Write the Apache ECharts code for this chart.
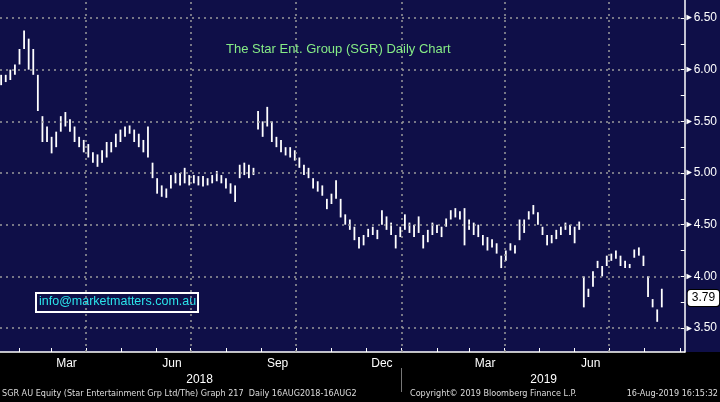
<!DOCTYPE html>
<html>
<head>
<meta charset="utf-8">
<script src="https://cdn.jsdelivr.net/npm/echarts@6/dist/echarts.min.js"></script>
<style>
  html, body { margin: 0; padding: 0; }
  body { background: linear-gradient(#0f0f48 0, #0f0f48 352px, #000 352px); }
  #main { width: 720px; height: 402px; }
</style>
</head>
<body>
<div id="main"></div>
<script>
// day numbers count from 1 Jan 2018, one bar every 4 days from 16 Jan 2018
var lows = [5.85,5.88,5.90,5.95,6.05,6.20,6.00,5.95,5.60,5.30,5.30,5.19,5.25,5.40,5.45,5.40,5.30,5.25,5.20,5.15,
  5.10,5.06,5.10,5.15,5.20,5.25,5.30,5.35,5.38,5.30,5.25,5.20,5.15,4.95,4.80,4.77,4.76,4.85,4.90,4.88,
  4.90,4.88,4.90,4.88,4.87,4.88,4.90,4.92,4.90,4.85,4.80,4.72,4.95,4.98,4.95,4.98,5.42,5.35,5.45,5.30,
  5.25,5.20,5.17,5.15,5.12,5.05,4.98,4.95,4.85,4.82,4.78,4.65,4.70,4.75,4.57,4.50,4.45,4.35,4.27,4.30,
  4.38,4.40,4.36,4.50,4.45,4.40,4.27,4.38,4.45,4.42,4.38,4.42,4.27,4.33,4.40,4.42,4.38,4.48,4.55,4.57,
  4.55,4.30,4.45,4.40,4.38,4.30,4.25,4.28,4.22,4.08,4.15,4.25,4.22,4.35,4.42,4.55,4.60,4.50,4.40,4.30,
  4.32,4.36,4.40,4.45,4.40,4.32,4.45,3.70,3.80,3.90,4.08,4.00,4.10,4.15,4.17,4.10,4.08,4.08,4.18,4.20,
  4.10,3.80,3.70,3.56,3.70];
var highs = [5.95,5.95,6.00,6.05,6.20,6.38,6.30,6.20,5.95,5.55,5.45,5.35,5.40,5.55,5.59,5.52,5.45,5.35,5.32,5.28,
  5.20,5.18,5.22,5.30,5.30,5.38,5.42,5.45,5.46,5.42,5.38,5.32,5.45,5.10,4.95,4.88,4.85,4.98,5.00,5.00,
  5.05,4.98,4.98,4.97,4.97,4.95,4.98,5.02,4.98,4.95,4.90,4.88,5.08,5.10,5.08,5.05,5.60,5.50,5.64,5.50,
  5.35,5.32,5.25,5.25,5.22,5.15,5.08,5.05,4.95,4.92,4.88,4.75,4.80,4.93,4.75,4.60,4.55,4.48,4.38,4.40,
  4.46,4.48,4.45,4.64,4.58,4.52,4.40,4.48,4.60,4.52,4.50,4.58,4.40,4.45,4.52,4.50,4.48,4.56,4.64,4.66,
  4.63,4.66,4.55,4.52,4.50,4.40,4.38,4.36,4.32,4.20,4.25,4.32,4.30,4.55,4.55,4.63,4.69,4.62,4.48,4.40,
  4.40,4.45,4.48,4.52,4.50,4.48,4.53,4.00,3.88,4.05,4.15,4.10,4.20,4.22,4.25,4.20,4.15,4.12,4.26,4.28,
  4.20,4.00,3.78,3.68,3.88];
var lastPrice = 3.79;
var priceTicks = [3.5, 4, 4.5, 5, 5.5, 6, 6.5];
var minorTicks = [3.5, 3.75, 4, 4.25, 4.5, 4.75, 5, 5.25, 5.5, 5.75, 6, 6.25, 6.5];
var monthDays = [73, 165, 257, 348, 438, 530];
var monthNames = ['Mar', 'Jun', 'Sep', 'Dec', 'Mar', 'Jun'];
var quarterDays = [90, 181, 273, 365, 455, 546];
var yearDays = [189, 489];
var yearNames = ['2018', '2019'];
var monthStarts = [32, 60, 90, 121, 151, 181, 212, 243, 273, 304, 334, 365, 396, 424, 455, 485, 516, 546, 577, 608];

var days = lows.map(function (v, i) { return 16 + 4 * i; });
var bars = lows.map(function (v, i) { return [days[i], v, highs[i]]; });

var chart = echarts.init(document.getElementById('main'));
var font = 'Liberation Sans';
var dotted = { color: '#9a9a9a', type: [2, 4], width: 1.5 };
chart.setOption({
  backgroundColor: 'transparent',
  animation: false,
  textStyle: { fontFamily: font },
  title: {
    text: 'The Star Ent. Group (SGR) Daily Chart',
    left: 221, top: 38,
    textStyle: { color: '#86ec86', fontSize: 13, fontWeight: 'normal', fontFamily: font }
  },
  grid: { left: 0, top: 0, right: 34, bottom: 50 },
  xAxis: [{
    type: 'value', min: 15, max: 612,
    axisLine: { lineStyle: { color: '#fff', width: 1.5 } },
    axisTick: { show: true, inside: true, length: 4, customValues: monthStarts, lineStyle: { color: '#fff' } },
    axisLabel: {
      customValues: monthDays, color: '#fff', fontSize: 12, margin: 6,
      formatter: function (v) { return monthNames[monthDays.indexOf(v)]; }
    },
    splitLine: { show: false }
  }, {
    type: 'value', min: 15, max: 612, position: 'bottom', offset: 16,
    axisLine: { show: false },
    axisTick: { show: true, customValues: [365], length: 24, inside: false, lineStyle: { color: '#777' } },
    axisLabel: {
      customValues: yearDays, color: '#fff', fontSize: 12, margin: 6,
      formatter: function (v) { return yearNames[yearDays.indexOf(v)]; }
    },
    splitLine: { show: false }
  }],
  yAxis: {
    type: 'value', position: 'right', min: 3.268, max: 6.674,
    axisLine: { show: true, lineStyle: { color: '#fff', width: 1.5 } },
    axisTick: { show: true, inside: true, length: 4, customValues: minorTicks, lineStyle: { color: '#fff' } },
    axisLabel: {
      color: '#fff', fontSize: 12, margin: 0,
      customValues: priceTicks,
      formatter: function (v) { return '{a|►}' + v.toFixed(2); },
      rich: { a: { color: '#fff', fontSize: 9 } }
    },
    splitLine: { show: false },
    axisPointer: {
      show: true, value: lastPrice, status: 'show', triggerTooltip: false,
      lineStyle: { opacity: 0 },
      label: {
        backgroundColor: '#fff', color: '#000', fontSize: 12, padding: [2, 4],
        borderColor: '#000', borderWidth: 1,
        formatter: function () { return lastPrice.toFixed(2); }
      }
    }
  },
  series: [{
    type: 'custom',
    data: bars,
    encode: { x: 0, y: [1, 2] },
    renderItem: function (params, api) {
      var a = api.coord([api.value(0), api.value(1)]);
      var b = api.coord([api.value(0), api.value(2)]);
      return {
        type: 'line',
        shape: { x1: a[0], y1: a[1], x2: b[0], y2: b[1] },
        style: { stroke: '#fff', lineWidth: 1.8 }
      };
    },
    markLine: {
      silent: true, symbol: 'none', label: { show: false },
      lineStyle: dotted,
      data: quarterDays.map(function (d) { return { xAxis: d }; })
        .concat(priceTicks.map(function (p) { return { yAxis: p }; }))
    }
  }],
  graphic: [{
    type: 'rect', left: 35, top: 292,
    shape: { width: 162, height: 19 },
    style: { fill: 'transparent', stroke: '#fff', lineWidth: 2 }
  }, {
    type: 'text', left: 39, top: 295,
    style: { text: 'info@marketmatters.com.au', fill: '#2be3ea', font: '12.5px ' + font }
  }, {
    type: 'text', left: 2, top: 389,
    style: { text: 'SGR AU Equity (Star Entertainment Grp Ltd/The) Graph 217  Daily 16AUG2018-16AUG2', fill: '#ddd', font: '9px "DejaVu Sans Condensed"' }
  }, {
    type: 'text', left: 410, top: 389,
    style: { text: 'Copyright\u00a9 2019 Bloomberg Finance L.P.', fill: '#ddd', font: '9px "DejaVu Sans Condensed"' }
  }, {
    type: 'text', right: 2, top: 389,
    style: { text: '16-Aug-2019 16:15:32', fill: '#ddd', font: '9px "DejaVu Sans Condensed"' }
  }]
});
</script>
</body>
</html>
